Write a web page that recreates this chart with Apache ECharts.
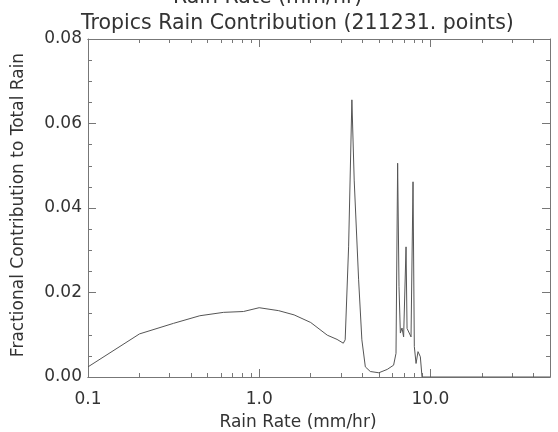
<!DOCTYPE html>
<html>
<head>
<meta charset="utf-8">
<script src="https://cdn.jsdelivr.net/npm/echarts@6/dist/echarts.min.js"></script>
<style>
html,body{margin:0;padding:0;background:#fff;}
#c{width:558px;height:432px;}
</style>
</head>
<body>
<div id="c"></div>
<script>
// Rain rate (mm/hr) and fractional contribution to total rain
var rainRate = [0.1, 0.2, 0.316, 0.45, 0.62, 0.81, 1.0, 1.3, 1.6, 2.0, 2.5, 2.85, 3.1, 3.18, 3.33, 3.48, 3.59, 3.81, 3.98, 4.17, 4.46, 5.0, 5.6, 6.1, 6.3, 6.44, 6.56, 6.68, 6.83, 6.98, 7.21, 7.31, 7.47, 7.71, 7.92, 8.06, 8.25, 8.47, 8.74, 8.94, 10.0, 50.0];
var contribution = [0.0024, 0.0102, 0.0127, 0.0145, 0.0153, 0.0155, 0.0164, 0.0157, 0.0147, 0.0129, 0.0099, 0.0089, 0.0080, 0.0088, 0.0308, 0.0656, 0.0466, 0.0230, 0.0088, 0.0024, 0.0013, 0.0010, 0.0018, 0.0028, 0.0056, 0.0506, 0.0214, 0.0104, 0.0116, 0.0095, 0.0308, 0.0115, 0.0118, 0.0095, 0.0462, 0.0072, 0.0032, 0.0060, 0.0048, 0.0, 0.0, 0.0];
var xMajorTicks = [0.1, 1, 10];
var xMinorTicks = [0.2, 0.3, 0.4, 0.5, 0.6, 0.7, 0.8, 0.9, 2, 3, 4, 5, 6, 7, 8, 9, 20, 30, 40];
var yTicks = [0, 0.02, 0.04, 0.06, 0.08];
var titleText = 'Tropics Rain Contribution (211231. points)';
var topText = 'Rain Rate (mm/hr)';
var xName = 'Rain Rate (mm/hr)';
var yName = 'Fractional Contribution to Total Rain';

var font = 'DejaVu Sans';
var axisColor = '#777';
var textColor = '#333';

var data = rainRate.map(function (r, i) { return [r, contribution[i]]; });

function xAxisDef(pos, ticks, len, labels) {
  return {
    type: 'log', logBase: 10, min: 0.1, max: 50, position: pos,
    gridIndex: 0,
    axisLine: { show: true, lineStyle: { color: axisColor, width: 1 } },
    axisTick: { show: true, inside: true, length: len, customValues: ticks, lineStyle: { color: axisColor } },
    axisLabel: labels ? {
      show: true, customValues: xMajorTicks, margin: 14,
      fontFamily: font, fontSize: 17, color: textColor,
      formatter: function (v) { return v < 1 ? String(v) : Number(v).toFixed(1); }
    } : { show: false },
    splitLine: { show: false },
    minorTick: { show: false },
    minorSplitLine: { show: false }
  };
}

var chart = echarts.init(document.getElementById('c'), null, { renderer: 'canvas' });
chart.setOption({
  animation: false,
  backgroundColor: '#fff',
  title: [
    { text: topText, left: 168, top: -18, textStyle: { fontFamily: font, fontSize: 20.5, fontWeight: 'normal', color: textColor } },
    { text: titleText, left: 76, top: 8, textStyle: { fontFamily: font, fontSize: 20.5, fontWeight: 'normal', color: textColor } }
  ],
  grid: { left: 88, right: 8, top: 39, bottom: 55, containLabel: false, outerBoundsMode: 'none' },
  xAxis: [
    Object.assign(xAxisDef('bottom', xMajorTicks, 8, true), {
      name: xName, nameLocation: 'middle', nameGap: 37,
      nameTextStyle: { fontFamily: font, fontSize: 17, color: textColor, padding: [0, 42, 0, 0] }
    }),
    xAxisDef('bottom', xMinorTicks, 4, false),
    xAxisDef('top', xMajorTicks, 8, false),
    xAxisDef('top', xMinorTicks, 4, false)
  ],
  yAxis: [
    {
      type: 'value', min: yTicks[0], max: yTicks[yTicks.length - 1], interval: 0.02, position: 'left',
      name: yName, nameLocation: 'middle', nameGap: 61,
      nameTextStyle: { fontFamily: font, fontSize: 17, color: textColor, padding: [0, 0, 0, 6] },
      axisLine: { show: true, lineStyle: { color: axisColor } },
      axisTick: { show: true, inside: true, length: 8, lineStyle: { color: axisColor } },
      minorTick: { show: true, splitNumber: 4, length: 4, lineStyle: { color: axisColor } },
      axisLabel: { fontFamily: font, fontSize: 17, color: textColor, margin: 6, formatter: function (v) { return v.toFixed(2); } },
      splitLine: { show: false }
    },
    {
      type: 'value', min: yTicks[0], max: yTicks[yTicks.length - 1], interval: 0.02, position: 'right',
      axisLine: { show: true, lineStyle: { color: axisColor } },
      axisTick: { show: true, inside: true, length: 8, lineStyle: { color: axisColor } },
      minorTick: { show: true, splitNumber: 4, length: 4, lineStyle: { color: axisColor } },
      axisLabel: { show: false },
      splitLine: { show: false }
    }
  ],
  series: [{
    type: 'line', xAxisIndex: 0, yAxisIndex: 0,
    data: data, showSymbol: false, symbol: 'none',
    lineStyle: { color: '#555', width: 1 },
    silent: true
  }]
});
</script>
</body>
</html>
